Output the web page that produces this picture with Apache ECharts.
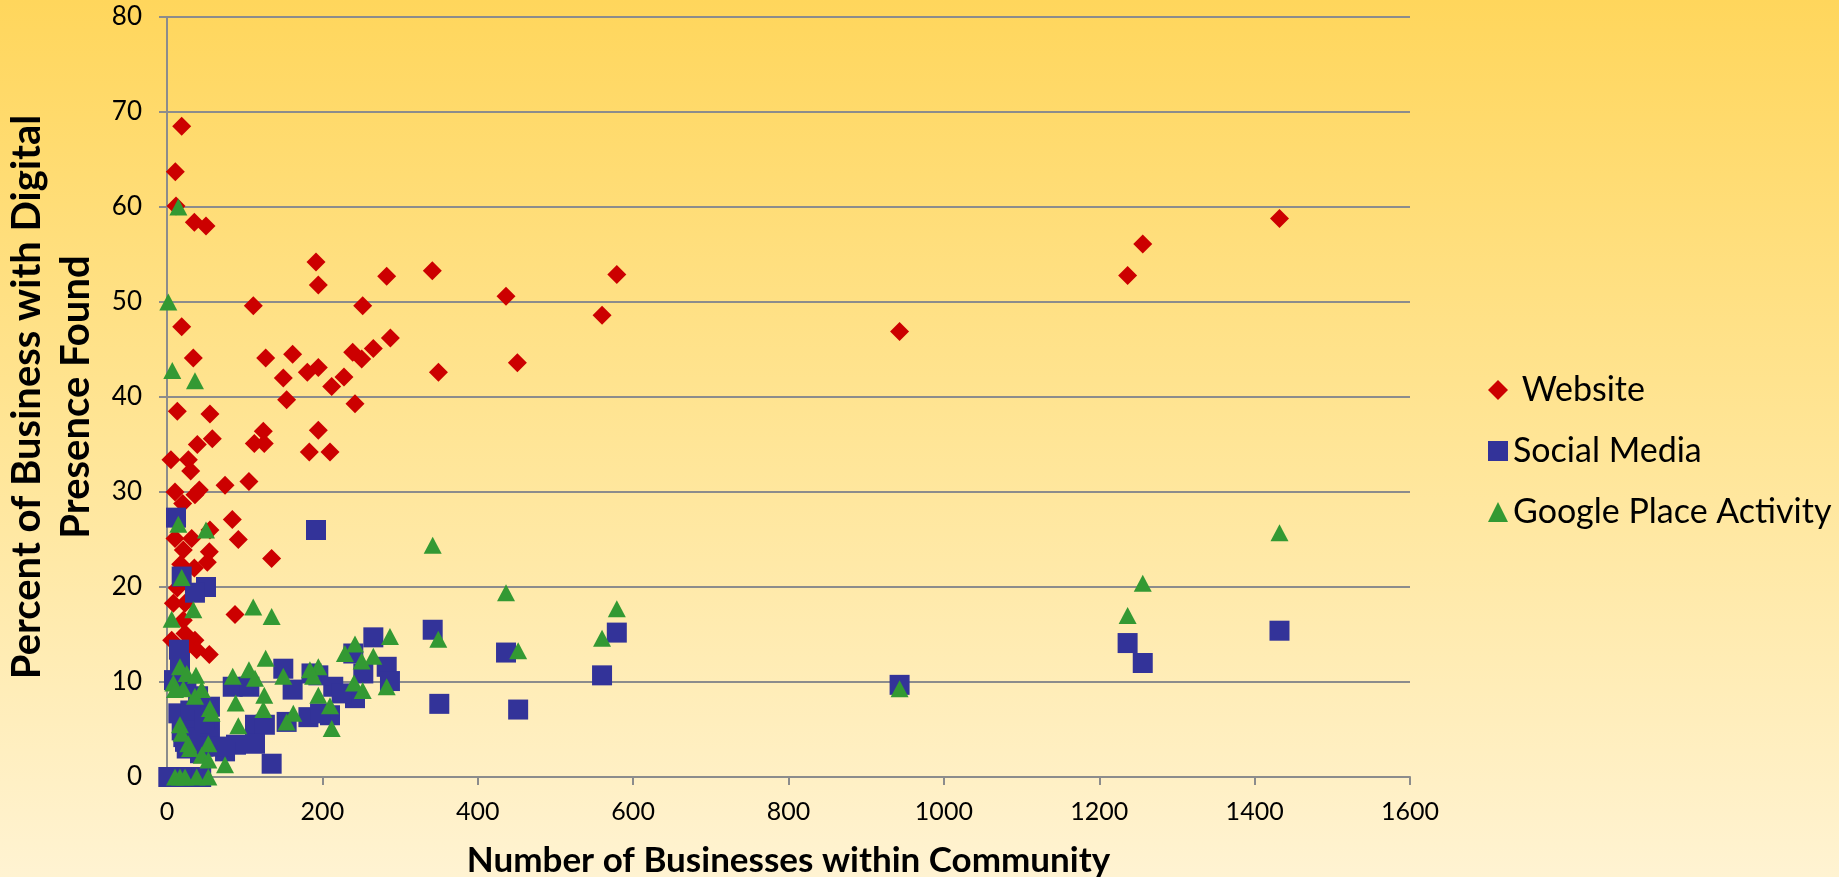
<!DOCTYPE html>
<html>
<head>
<meta charset="utf-8">
<script src="https://cdn.jsdelivr.net/npm/echarts@6/dist/echarts.min.js"></script>
<style>
  html, body { margin: 0; padding: 0; }
  #main { width: 1839px; height: 877px; }
</style>
</head>
<body>
<div id="main"></div>
<script>
var myChart = echarts.init(document.getElementById('main'));

// [number of businesses, percent found]
var website = [
  [18.9, 68.5], [10.7, 63.7], [11.6, 60.1], [35.2, 58.4], [50.2, 58.0],
  [191.8, 54.2], [194.8, 51.8], [282.8, 52.7], [341.5, 53.3], [436.4, 50.6],
  [111.1, 49.6], [251.9, 49.6], [18.9, 47.4], [287.5, 46.2], [265.6, 45.1],
  [33.9, 44.1], [127, 44.1], [161.7, 44.5], [239, 44.7], [250.6, 44.0],
  [349.4, 42.6], [451, 43.6], [180.6, 42.6], [194.8, 43.1], [149.7, 42.0],
  [227.8, 42.1], [212, 41.1], [154, 39.7], [242, 39.3], [13.3, 38.5],
  [55.3, 38.2], [194.8, 36.5], [124, 36.4], [58.3, 35.6], [39, 35.0],
  [112.4, 35.1], [125.2, 35.1], [183.2, 34.2], [209.8, 34.2], [5.1, 33.4],
  [27.5, 33.4], [30.5, 32.2], [10.3, 30.0], [41.6, 30.2], [36, 29.7],
  [20.2, 28.8], [74.7, 30.7], [105.5, 31.1], [84.1, 27.1], [91.8, 25.0],
  [134.7, 23.0], [55.3, 26.0], [10.3, 25.1], [31.8, 25.1], [21, 23.9],
  [54.5, 23.7], [51.9, 22.6], [17.6, 22.4], [35.2, 22.0], [13.3, 19.9],
  [8.2, 18.3], [23.2, 18.3], [87.5, 17.1], [21, 16.5], [6, 14.4],
  [23.2, 15.1], [36, 14.4], [38.2, 13.4], [54.5, 12.9], [25, 13.7],
  [560, 48.6], [579, 52.9], [943, 46.9], [1236.5, 52.8], [1256, 56.1],
  [1432, 58.8]
];

var socialMedia = [
  [11.6, 27.3], [191.8, 26.0], [18.9, 21.1], [50.2, 20.0], [36, 19.4],
  [15.4, 13.4], [16.7, 12.0], [9, 10.2], [149.7, 11.4], [84.6, 9.5],
  [106, 9.5], [161.7, 9.2], [265.6, 14.7], [342, 15.5], [436.4, 13.1],
  [282.8, 11.6], [287, 10.1], [252.7, 10.9], [242, 8.3], [214, 9.5],
  [194.8, 10.7], [186, 10.9], [224.8, 8.8], [239.8, 13.0], [182, 6.3],
  [209.8, 6.5], [197, 6.7], [350.5, 7.7], [452, 7.1], [14.6, 6.7],
  [55.3, 7.4], [55.3, 5.1], [113.3, 5.5], [126, 5.5], [154, 5.8],
  [88.8, 3.4], [113.3, 3.5], [134.7, 1.4], [74.7, 2.7], [21, 4.2],
  [25.4, 3.0], [42.5, 2.5], [33.9, 5.3], [18.9, 4.9], [23.2, 3.7],
  [46.8, 3.2], [68.2, 3.2], [42.5, 5.6], [29.6, 4.2], [40, 8.5],
  [30, 7.0], [25, 9.5], [48, 6.0], [1.7, 0], [16, 0], [30, 0], [44, 0],
  [560, 10.7], [579, 15.2], [943, 9.7], [1236.5, 14.1], [1256, 12.0],
  [1432, 15.4]
];

var googlePlace = [
  [14.6, 60.0], [1.7, 50.0], [6.8, 42.8], [36, 41.7], [14.6, 26.6],
  [50.2, 26.0], [18.9, 21.0], [6, 16.6], [33.9, 17.6], [111, 17.9],
  [134.7, 16.9], [342, 24.4], [436.4, 19.4], [349.2, 14.5], [287, 14.8],
  [242, 14.0], [229, 13.0], [265.6, 12.7], [250.6, 12.2], [127, 12.5],
  [194.8, 11.6], [184, 11.3], [188, 10.6], [149.7, 10.6], [105.5, 11.3],
  [113.3, 10.4], [84.6, 10.6], [16.7, 11.6], [25.4, 10.9], [37.3, 10.7],
  [8.2, 9.9], [21, 9.3], [10.3, 9.2], [36, 8.5], [44.7, 9.2],
  [240.7, 9.9], [282.8, 9.5], [251.9, 9.1], [125.2, 8.6], [194.8, 8.6],
  [88.4, 7.8], [124, 7.1], [55.3, 7.2], [57.4, 6.7], [162.6, 6.7],
  [209.8, 7.5], [154, 5.8], [212, 5.1], [91.8, 5.4], [16.7, 5.5],
  [18.9, 4.6], [27.4, 3.5], [29.6, 3.0], [53.2, 3.5], [44.7, 2.3],
  [53.2, 1.8], [74.7, 1.3], [10.3, 0], [16.7, 0], [23.2, 0], [38.2, 0],
  [53.2, 0], [452, 13.3], [560, 14.6], [579, 17.7], [943, 9.3],
  [1236.5, 17.0], [1256, 20.4], [1432, 25.7]
];

var seriesNames = [' Website', 'Social Media', 'Google Place Activity'];
var xTitle = 'Number of Businesses within Community';
var yTitle = 'Percent of Business with Digital\nPresence Found';

var fontName = 'Lato';
var gridGray = '#8c8c8c';

var option = {
    backgroundColor: new echarts.graphic.LinearGradient(0, 0, 0, 1, [
        { offset: 0, color: '#ffd65c' },
        { offset: 0.5, color: '#ffe596' },
        { offset: 1, color: '#fff3d2' }
    ]),
    textStyle: { fontFamily: fontName },
    grid: { left: 167, right: 429, top: 17, bottom: 100, outerBoundsMode: 'none' },
    legend: {
        orient: 'vertical',
        left: 1483,
        top: 368,
        itemWidth: 20,
        itemHeight: 20,
        itemGap: 27,
        textStyle: { fontSize: 34, color: '#000', fontFamily: fontName },
        data: seriesNames
    },
    xAxis: {
        type: 'value',
        min: 0,
        max: 1600,
        interval: 200,
        name: xTitle,
        nameLocation: 'middle',
        nameGap: 66,
        nameTextStyle: { fontSize: 35, fontWeight: 'bold', color: '#000', fontFamily: fontName },
        axisLine: { show: true, lineStyle: { color: gridGray, width: 2 } },
        axisTick: { show: true, length: 8, lineStyle: { color: gridGray, width: 2 } },
        axisLabel: {
            fontSize: 25,
            color: '#000',
            margin: 22,
            formatter: function (v) { return String(v); }
        },
        splitLine: { show: false }
    },
    yAxis: {
        type: 'value',
        min: 0,
        max: 80,
        interval: 10,
        name: yTitle,
        nameLocation: 'middle',
        nameRotate: 90,
        nameGap: 58,
        nameTextStyle: { fontSize: 40, fontWeight: 'bold', color: '#000', lineHeight: 49, fontFamily: fontName },
        axisLine: { show: true, lineStyle: { color: gridGray, width: 2 } },
        axisTick: { show: true, length: 8, lineStyle: { color: gridGray, width: 2 } },
        axisLabel: { fontSize: 26, color: '#000', margin: 25 },
        splitLine: { show: true, lineStyle: { color: gridGray, width: 2 } }
    },
    series: [{
        name: seriesNames[0],
        type: 'scatter',
        symbol: 'diamond',
        symbolSize: 19,
        itemStyle: { color: '#cc0000', opacity: 1 },
        data: website
    }, {
        name: seriesNames[1],
        type: 'scatter',
        symbol: 'rect',
        symbolSize: 20,
        itemStyle: { color: '#333399', opacity: 1 },
        data: socialMedia
    }, {
        name: seriesNames[2],
        type: 'scatter',
        symbol: 'triangle',
        symbolSize: [18, 17],
        itemStyle: { color: '#339933', opacity: 1 },
        data: googlePlace
    }]
};
myChart.setOption(option);
</script>
</body>
</html>
